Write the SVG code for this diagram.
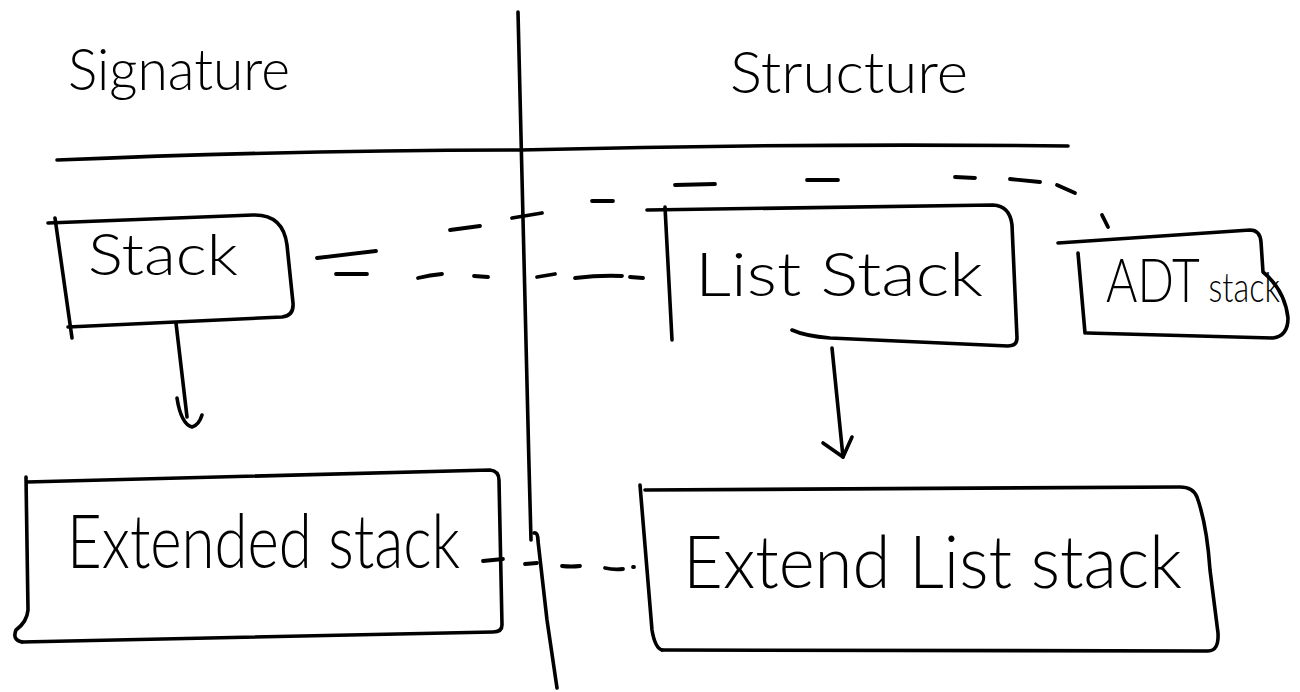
<svg xmlns="http://www.w3.org/2000/svg" width="1300" height="692" viewBox="0 0 1300 692">
  <style>
    .ink { fill: none; stroke: #000; stroke-width: 3.6; stroke-linecap: round; stroke-linejoin: round; }
    .dash { fill: none; stroke: #000; stroke-width: 3.8; stroke-linecap: round; }
    .hand { font-family: "Lato", "Liberation Sans", sans-serif; font-weight: 300; fill: #000; }
  </style>
  <rect width="1300" height="692" fill="#fff"/>

  <!-- column frame -->
  <g id="frame">
    <path class="ink" d="M518,12 C520,150 526,350 531,540"/>
    <path class="ink" d="M534,533 Q538,532 538,541 L547,620 L557,688"/>
    <path class="ink" d="M57,160 Q300,150 520,150 Q800,143 1068,146"/>
    <text class="hand" x="68" y="90" font-size="58" textLength="222" lengthAdjust="spacingAndGlyphs">Signature</text>
    <text class="hand" x="730" y="93" font-size="58" textLength="238" lengthAdjust="spacingAndGlyphs">Structure</text>
  </g>

  <!-- nodes -->
  <g id="node-stack">
    <path class="ink" d="M48,223 L253,215 Q283,214 287,245 L293,303 Q294,316 282,317 L68,327"/>
    <path class="ink" d="M55,218 L72,338"/>
    <text class="hand" x="88" y="275" font-size="58" textLength="150" lengthAdjust="spacingAndGlyphs">Stack</text>
  </g>

  <g id="node-list-stack">
    <path class="ink" d="M647,210 L993,205 Q1010,206 1012,225 L1017,338 Q1017,346 1008,346 L830,338 Q805,336 792,330"/>
    <path class="ink" d="M665,207 L672,340"/>
    <text class="hand" x="695" y="296" font-size="62" textLength="288" lengthAdjust="spacingAndGlyphs">List Stack</text>
  </g>

  <g id="node-adt-stack">
    <path class="ink" d="M1058,243 L1250,230 Q1260,230 1261,242 L1263,272 Q1285,290 1288,318 Q1288,336 1273,338 L1087,333"/>
    <path class="ink" d="M1078,253 L1085,333"/>
    <text class="hand" x="1106" y="302" textLength="174" lengthAdjust="spacingAndGlyphs"><tspan font-size="62">ADT</tspan><tspan font-size="42"> stack</tspan></text>
  </g>

  <g id="node-extended-stack">
    <path class="ink" d="M27,482 L490,470 Q499,471 499,480 L502,625 Q502,632 493,632 L22,642"/>
    <path class="ink" d="M26,477 L28,610 Q27,622 16,630 Q12,640 22,642"/>
    <text class="hand" x="67" y="568" font-size="74" textLength="393" lengthAdjust="spacingAndGlyphs">Extended stack</text>
  </g>

  <g id="node-extend-list-stack">
    <path class="ink" d="M645,490 L1180,487 Q1193,487 1197,497 Q1207,525 1210,570 L1218,633 Q1219,651 1208,651 L662,650"/>
    <path class="ink" d="M640,485 L652,630 Q655,648 662,650"/>
    <text class="hand" x="683" y="588" font-size="72" textLength="499" lengthAdjust="spacingAndGlyphs">Extend List stack</text>
  </g>

  <!-- connectors -->
  <g id="connectors">
    <!-- Stack down to Extended stack -->
    <path class="ink" d="M176,323 L187,417"/>
    <path class="ink" d="M177,398 Q181,424 192,427 Q199,425 202,415"/>

    <!-- List Stack down to Extend List stack -->
    <path class="ink" d="M832,348 L843,457"/>
    <path class="ink" d="M823,443 L843,457 L852,437"/>

    <!-- Stack to List Stack, lower dashed line -->
    <path class="dash" d="M336,274 L367,274"/>
    <path class="dash" d="M418,278 Q430,275 442,274"/>
    <path class="dash" d="M474,276 L488,277"/>
    <path class="dash" d="M537,277 L555,274"/>
    <path class="dash" d="M575,278 Q600,275 622,276"/>
    <path class="dash" d="M630,277 L643,278"/>

    <!-- Stack to ADT stack, upper dashed curve -->
    <path class="dash" d="M317,258 L376,251"/>
    <path class="dash" d="M450,230 L480,226"/>
    <path class="dash" d="M512,218 L542,213"/>
    <path class="dash" d="M592,201 L613,201"/>
    <path class="dash" d="M675,185 L715,184"/>
    <path class="dash" d="M807,180 L838,180"/>
    <path class="dash" d="M955,177 L975,178"/>
    <path class="dash" d="M1010,179 L1040,182"/>
    <path class="dash" d="M1057,185 L1075,193"/>
    <path class="dash" d="M1102,215 L1108,227"/>

    <!-- Extended stack to Extend List stack -->
    <path class="dash" d="M483,561 L503,559"/>
    <path class="dash" d="M525,564 L537,563"/>
    <path class="dash" d="M562,566 Q571,567 580,566"/>
    <path class="dash" d="M605,568 Q614,570 623,569"/>
    <path class="dash" d="M633,567 L634,567"/>
  </g>
</svg>
